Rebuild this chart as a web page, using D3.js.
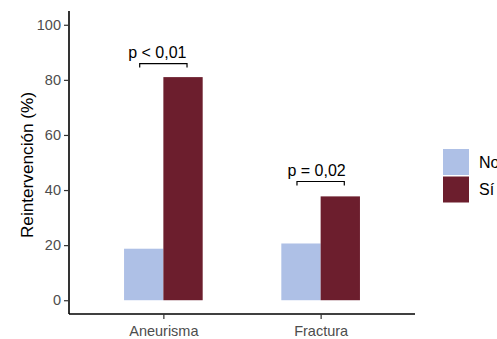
<!DOCTYPE html>
<html>
<head>
<meta charset="utf-8">
<script src="https://cdn.jsdelivr.net/npm/d3@7"></script>
<style>
  body { margin: 0; background: #fff; }
  text { font-family: "Liberation Sans", Arial, sans-serif; }
</style>
</head>
<body>
<div class="core_div"></div>
<script>
// Data
var categories = ["Aneurisma", "Fractura"];
var groups = ["No", "Sí"];
var valuesNo = [18.7, 20.6];
var valuesSi = [81.0, 37.7];
var yTicks = [0, 20, 40, 60, 80, 100];
var pLabels = ["p < 0,01", "p = 0,02"];
var pLevels = [85.9, 43.1];

var colors = {"No": "#aec0e6", "Sí": "#6c1e2d"};

var width = 497, height = 339;
var margin = {top: 11, right: 82, bottom: 25, left: 69};

var svg = d3.select(".core_div").append("svg")
    .attr("width", width)
    .attr("height", height);

// ggplot-like discrete scale: positions 1..n with 0.6 expansion
var x = d3.scaleLinear()
    .domain([0.4, categories.length + 0.6])
    .range([margin.left, width - margin.right]);

var y = d3.scaleLinear()
    .domain([-5, 105])
    .range([height - margin.bottom, margin.top]);

var barW = x(1.25) - x(1);

var rows = [];
categories.forEach(function(c, i) {
  rows.push({cat: c, pos: i + 1, group: "No", value: valuesNo[i]});
  rows.push({cat: c, pos: i + 1, group: "Sí", value: valuesSi[i]});
});

// Bars
svg.selectAll("rect.bar")
    .data(rows)
  .enter().append("rect")
    .attr("class", "bar")
    .attr("x", function(d) { return d.group === "No" ? x(d.pos) - barW : x(d.pos); })
    .attr("y", function(d) { return y(d.value); })
    .attr("width", barW)
    .attr("height", function(d) { return y(0) - y(d.value); })
    .style("fill", function(d) { return colors[d.group]; });

// Axes
var yAxis = svg.append("g")
    .attr("transform", "translate(" + margin.left + ",0)")
    .call(d3.axisLeft(y).tickValues(yTicks).tickSize(5).tickPadding(3));

var xAxis = svg.append("g")
    .attr("transform", "translate(0," + (height - margin.bottom) + ")")
    .call(d3.axisBottom(x).tickValues(categories.map(function(c, i) { return i + 1; }))
      .tickFormat(function(d) { return categories[d - 1]; })
      .tickSize(5).tickPadding(7));

[yAxis, xAxis].forEach(function(ax) {
  ax.select(".domain").attr("stroke", "#000").attr("stroke-width", 1.6);
  ax.selectAll(".tick line").attr("stroke", "#333").attr("stroke-width", 1.2);
  ax.selectAll(".tick text")
    .attr("fill", "#4d4d4d")
    .style("font-size", "14.5px")
    .style("font-family", "'Liberation Sans', Arial, sans-serif");
});
xAxis.select(".domain").attr("d", "M" + margin.left + ",0H" + (width - margin.right));
yAxis.select(".domain").attr("d", "M0," + margin.top + "V" + (height - margin.bottom));

// Y label
svg.append("text")
    .attr("transform", "translate(33,165) rotate(-90)")
    .attr("text-anchor", "middle")
    .style("font-size", "17.2px")
    .attr("fill", "#000")
    .text("Reintervención (%)");

// Significance brackets
categories.forEach(function(c, i) {
  var x0 = x(i + 1) - barW / 2 - 4, x1 = x(i + 1) + barW / 2 + 4;
  var yy = y(pLevels[i]);
  svg.append("path")
      .attr("d", "M" + x0 + "," + (yy + 4) + "V" + yy + "H" + x1 + "V" + (yy + 4))
      .attr("fill", "none")
      .attr("stroke", "#000")
      .attr("stroke-width", 1.2);
  svg.append("text")
      .attr("x", x(i + 1) - (i === 0 ? 6 : 4))
      .attr("y", yy - 6)
      .attr("text-anchor", "middle")
      .style("font-size", "16px")
      .attr("fill", "#000")
      .text(pLabels[i]);
});

// Legend
var legend = svg.append("g").attr("transform", "translate(443,149)");
groups.forEach(function(g, i) {
  legend.append("rect")
      .attr("x", 0)
      .attr("y", i * 27.5)
      .attr("width", 26)
      .attr("height", 26)
      .style("fill", colors[g]);
  legend.append("text")
      .attr("x", 36)
      .attr("y", i * 27.5 + 13)
      .attr("dy", "0.36em")
      .style("font-size", "16px")
      .attr("fill", "#000")
      .text(g);
});
</script>
</body>
</html>
